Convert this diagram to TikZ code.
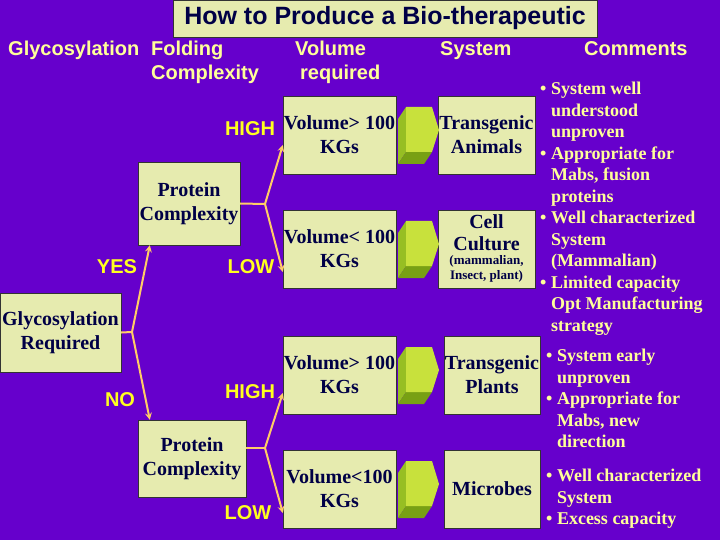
\documentclass[tikz,border=0pt]{standalone}
\usepackage{fontspec}
\setmainfont{Liberation Serif}
\setsansfont{Liberation Sans}
\usetikzlibrary{calc}

\definecolor{bgpurple}{RGB}{102,0,204}
\definecolor{boxfill}{RGB}{230,235,175}
\definecolor{navy}{RGB}{0,0,70}
\definecolor{headyellow}{RGB}{255,255,153}
\definecolor{labyellow}{RGB}{255,255,30}
\definecolor{linkorange}{RGB}{255,204,102}
\definecolor{prismlight}{RGB}{200,225,60}
\definecolor{prismdark}{RGB}{150,190,35}
\definecolor{prismdeep}{RGB}{120,160,20}

\begin{document}
\begin{tikzpicture}[x=1pt, y=-1pt]
    \tikzset{box/.style={draw=black!80, fill=boxfill, text=navy, align=center, inner sep=0pt,
                         font=\fontsize{20}{24}\selectfont\bfseries},
             head/.style={text=headyellow, align=left, inner sep=0pt,
                          font=\sffamily\fontsize{20}{24}\selectfont\bfseries},
             lab/.style={text=labyellow, inner sep=0pt, font=\sffamily\fontsize{20}{24}\selectfont\bfseries},
             comment/.style={text=headyellow, align=left, inner sep=0pt, anchor=north west,
                             font=\fontsize{18}{21.5}\selectfont\bfseries},
             link/.style={draw=linkorange, line width=2pt, >=stealth}}
    \fill[bgpurple] (0,0) rectangle (720,540);
    \useasboundingbox (0,0) rectangle (720,540);

    % title and column heads
    \node[box, minimum width=424, minimum height=37, font=\sffamily\fontsize{25}{30}\selectfont\bfseries] (title) at (385,18.5) {How to Produce a Bio-therapeutic};
    \node[head, anchor=base west] (hglyco) at (8,56) {Glycosylation};
    \node[head, anchor=west] (hfold) at (151,62) {Folding\\Complexity};
    \node[head, anchor=west] (hvol) at (295,62) {Volume\\\hspace{5pt}required};
    \node[head, anchor=base west] (hsys) at (440,56) {System};
    \node[head, anchor=base west] (hcom) at (584,56) {Comments};

    % decision boxes
    \node[box, minimum width=121, minimum height=79] (glyco) at (60.5,332.5) {Glycosylation\\Required};
    \node[box, minimum width=102, minimum height=83] (protA) at (189,203.5) {Protein\\Complexity};
    \node[box, minimum width=108, minimum height=77] (protB) at (192,458.5) {Protein\\Complexity};

    \node[box, minimum width=113, minimum height=78] (volA) at (339.5,135) {Volume> 100\\KGs};
    \node[box, minimum width=113, minimum height=78] (volB) at (339.5,249) {Volume< 100\\KGs};
    \node[box, minimum width=113, minimum height=78] (volC) at (339.5,375) {Volume> 100\\KGs};
    \node[box, minimum width=113, minimum height=78] (volD) at (339.5,489) {Volume<100\\KGs};

    \node[box, minimum width=97, minimum height=78] (sysA) at (486.5,135) {Transgenic\\Animals};
    \node[box, minimum width=97, minimum height=78, font=\fontsize{20}{22}\selectfont\bfseries] (sysB) at (486.5,249)
        {Cell\\Culture\\{\fontsize{13}{14.5}\selectfont\begin{tabular}{@{}c@{}}(mammalian,\\Insect, plant)\end{tabular}}};
    \node[box, minimum width=96, minimum height=78] (sysC) at (492,375) {Transgenic\\Plants};
    \node[box, minimum width=96, minimum height=78] (sysD) at (492,489) {Microbes};

    % green arrow blocks
    \foreach \yc in {135,249,375,489}{
        \begin{scope}[shift={(398,\yc)}]
            \fill[prismdark] (8,-28) -- (0,-16) -- (0,29) -- (8,17) -- cycle;
            \fill[prismdeep] (8,17) -- (0,29) -- (26,29) -- (34,17) -- cycle;
            \fill[prismlight] (8,-28) -- (34,-28) -- (41,-5) -- (34,17) -- (8,17) -- cycle;
        \end{scope}
    }

    % connectors
    \coordinate (forkA) at (132,332);
    \coordinate (forkB) at (265,204);
    \coordinate (forkC) at (265,448);
    \draw[link] (glyco.east) -- (forkA);
    \draw[link, ->] (forkA) -- ($(protA.south west)+(12,0)$);
    \draw[link, ->] (forkA) -- ($(protB.north west)+(12,0)$);
    \draw[link] (protA.east) -- (forkB);
    \draw[link, ->] (forkB) -- ($(volA.west)+(0,10)$);
    \draw[link, ->] (forkB) -- ($(volB.west)+(0,23)$);
    \draw[link] (protB.east |- forkC) -- (forkC);
    \draw[link, ->] (forkC) -- ($(volC.west)+(0,18)$);
    \draw[link, ->] (forkC) -- ($(volD.west)+(0,24)$);

    \node[lab] (yes) at (117,267) {YES};
    \node[lab] (no) at (120,400) {NO};
    \node[lab] (highA) at (250,129) {HIGH};
    \node[lab] (lowA) at (251,267) {LOW};
    \node[lab] (highB) at (250,392) {HIGH};
    \node[lab] (lowB) at (248,513) {LOW};

    % comments
    \node[comment] (comA) at (540,82) {\textbullet\ System well\\
        \phantom{\textbullet\ }understood\\
        \phantom{\textbullet\ }unproven\\
        \textbullet\ Appropriate for\\
        \phantom{\textbullet\ }Mabs, fusion\\
        \phantom{\textbullet\ }proteins\\
        \textbullet\ Well characterized\\
        \phantom{\textbullet\ }System\\
        \phantom{\textbullet\ }(Mammalian)\\
        \textbullet\ Limited capacity\\
        \phantom{\textbullet\ }Opt Manufacturing\\
        \phantom{\textbullet\ }strategy};
    \node[comment] (comB) at (546,349) {\textbullet\ System early\\
        \phantom{\textbullet\ }unproven\\
        \textbullet\ Appropriate for\\
        \phantom{\textbullet\ }Mabs, new\\
        \phantom{\textbullet\ }direction};
    \node[comment] (comC) at (546,469) {\textbullet\ Well characterized\\
        \phantom{\textbullet\ }System\\
        \textbullet\ Excess capacity};
\end{tikzpicture}
\end{document}
